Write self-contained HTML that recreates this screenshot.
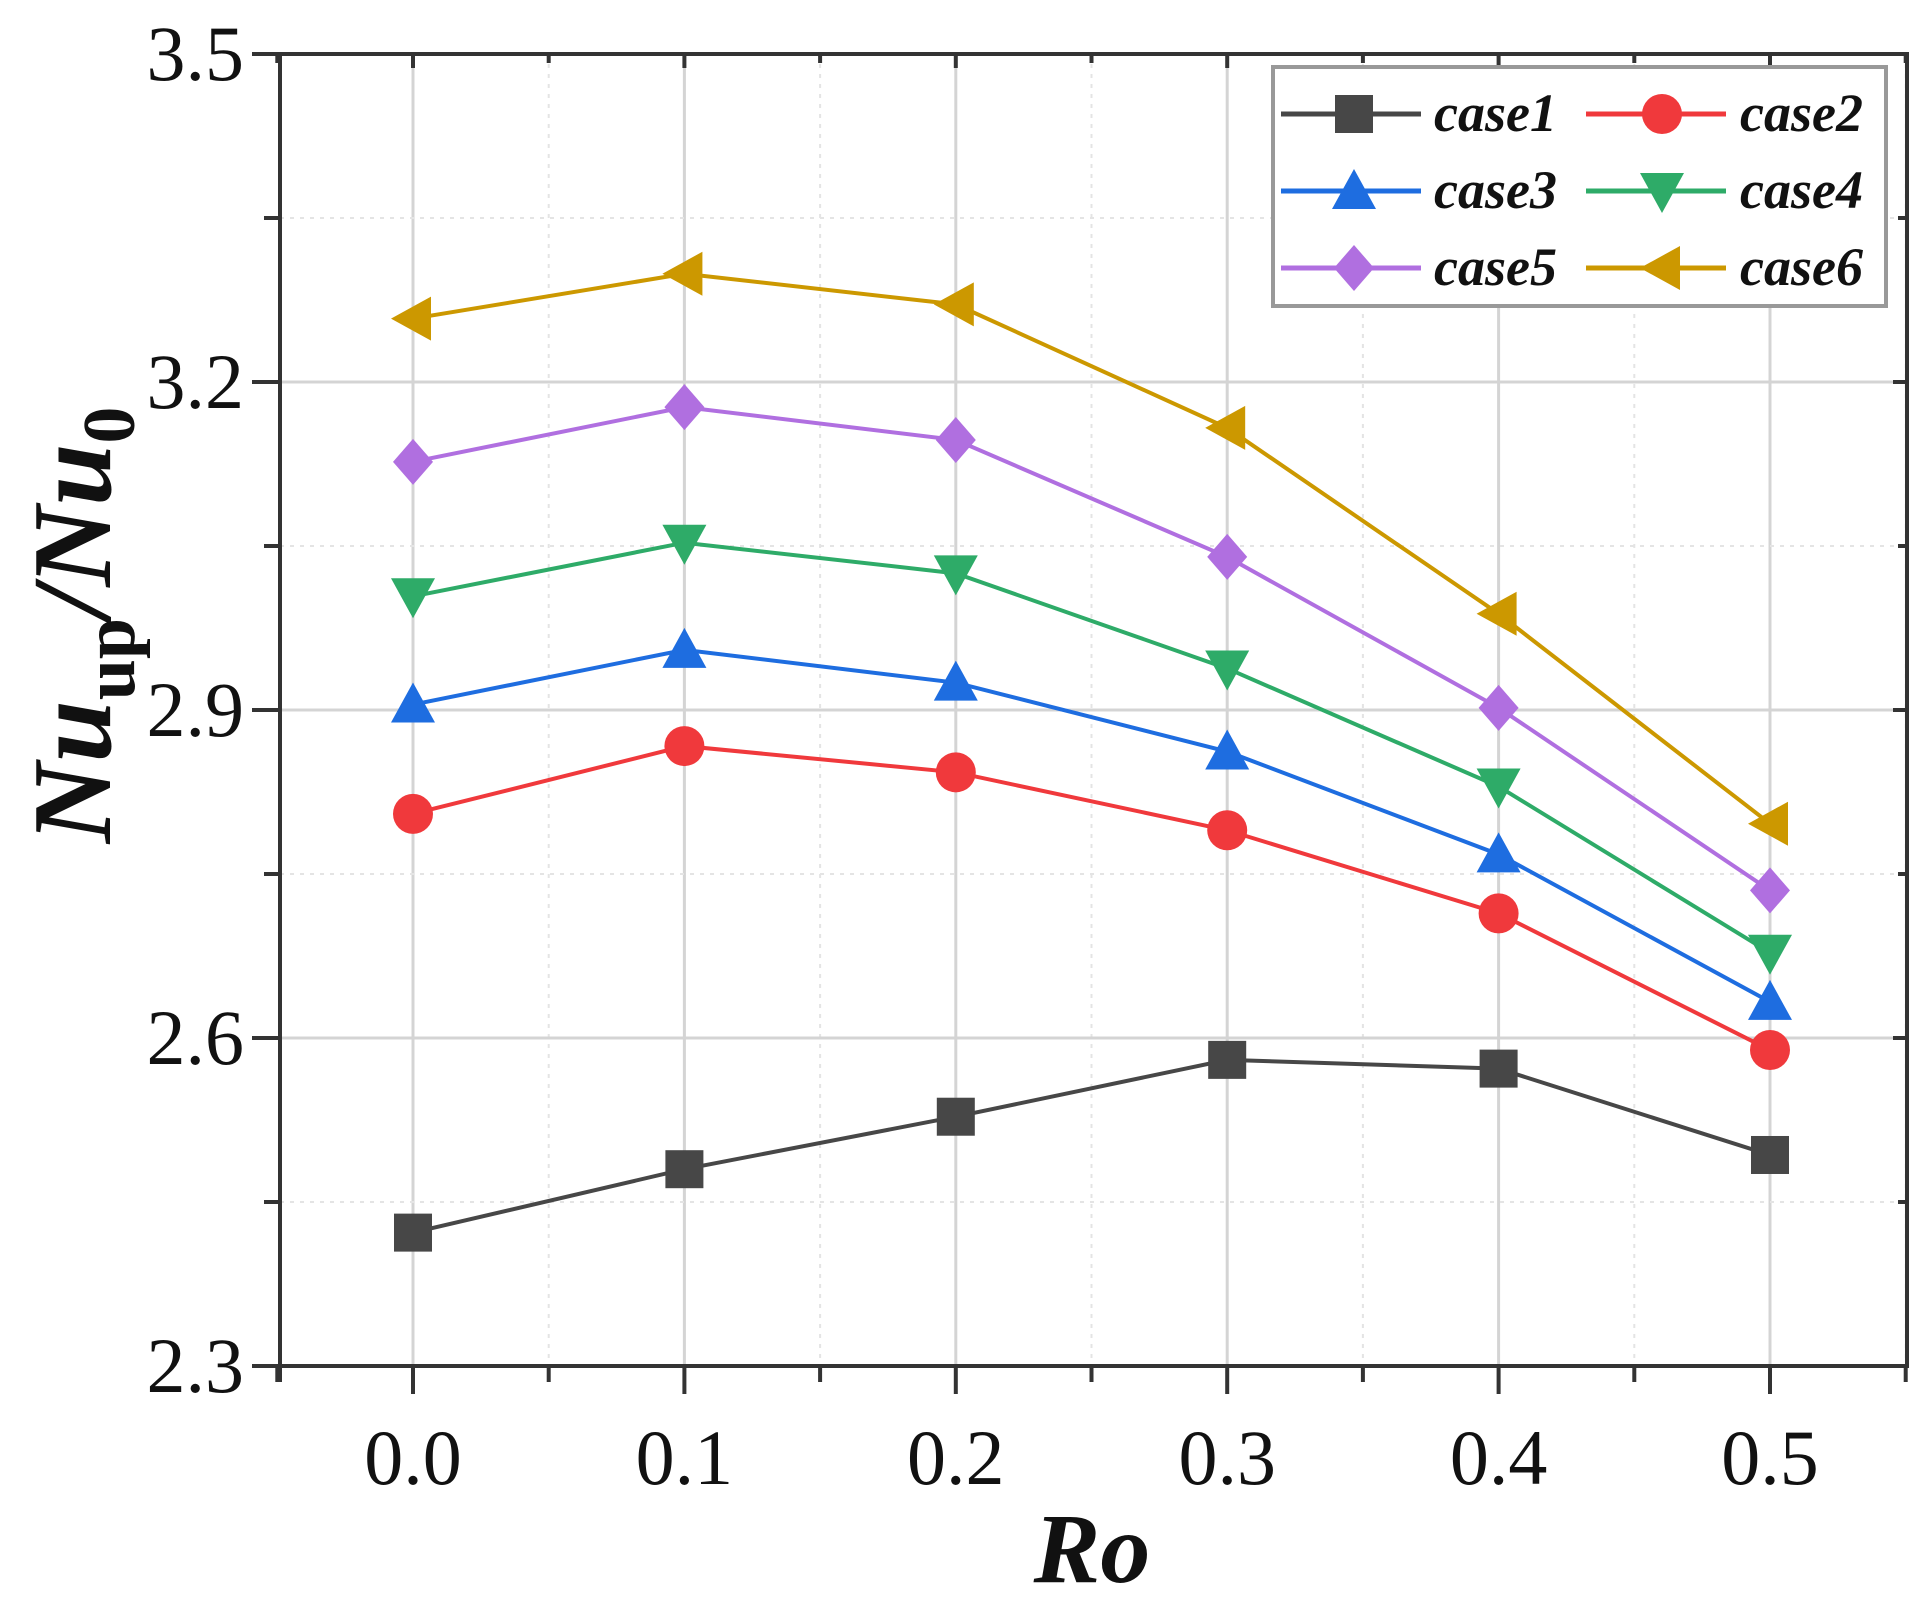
<!DOCTYPE html>
<html><head><meta charset="utf-8"><style>
html,body{margin:0;padding:0;background:#fff;}
svg{display:block;}
text{font-family:"Liberation Serif",serif;}
</style></head><body>
<svg id="chart" width="1925" height="1598" viewBox="0 0 1925 1598" xmlns="http://www.w3.org/2000/svg"></svg>
<script>
const xCategories = [0.0, 0.1, 0.2, 0.3, 0.4, 0.5];
const xTickLabels = ["0.0","0.1","0.2","0.3","0.4","0.5"];
const yTickValues = [2.3, 2.6, 2.9, 3.2, 3.5];
const yTickLabels = ["2.3","2.6","2.9","3.2","3.5"];
const seriesNames = ["case1","case2","case3","case4","case5","case6"];
const case1 = [2.422, 2.480, 2.528, 2.580, 2.572, 2.493];
const case2 = [2.805, 2.867, 2.843, 2.790, 2.714, 2.589];
const case3 = [2.905, 2.955, 2.925, 2.862, 2.768, 2.633];
const case4 = [3.004, 3.053, 3.025, 2.938, 2.830, 2.678];
const case5 = [3.127, 3.177, 3.147, 3.040, 2.902, 2.735];
const case6 = [3.258, 3.299, 3.271, 3.158, 2.988, 2.796];

const seriesValues = [case1, case2, case3, case4, case5, case6];
const colors = ["#474747","#f0393c","#1e6de0","#2eab68","#b06fe0","#cc9800"];
const markers = ["square","circle","up","down","diamond","left"];

const L=280,R=1907,T=54,B=1366;
const xs = v => 413 + (v-0)/(0.5)*(1770-413);
const ys = v => B - (v-2.3)/(1.2)*(B-T);
const NS="http://www.w3.org/2000/svg";
const svg=document.getElementById('chart');
function el(tag,attrs,parent){const e=document.createElementNS(NS,tag);for(const k in attrs)e.setAttribute(k,attrs[k]);(parent||svg).appendChild(e);return e;}

// grid
const grid=el('g',{});


for(let i=0;i<xCategories.length;i++){
  const x=xs(xCategories[i]);
  const g=el('line',{x1:x,x2:x,y1:T,y2:B,stroke:'#d4d4d4','stroke-width':3},grid);
  
  
}
for(let i=0;i<=xCategories.length;i++){
  const x=xs(-0.05+0.1*i);
  if(x<=L||x>=R) continue;
  const g=el('line',{x1:x,x2:x,y1:T,y2:B,stroke:'#e4e4e4','stroke-width':2,'stroke-dasharray':'4,6'},grid);
  
  
}
for(let i=0;i<yTickValues.length;i++){
  const y=ys(yTickValues[i]);
  if(i>0&&i<yTickValues.length-1){
    const g=el('line',{x1:L,x2:R,y1:y,y2:y,stroke:'#d4d4d4','stroke-width':3},grid);
    
    
  }
  if(i<yTickValues.length-1){
    const ym=ys(yTickValues[i]+0.15);
    const g=el('line',{x1:L,x2:R,y1:ym,y2:ym,stroke:'#e4e4e4','stroke-width':2,'stroke-dasharray':'4,6'},grid);
    
    
  }
}

// ticks
const ticks=el('g',{stroke:'#333','stroke-width':4});


for(let i=0;i<xCategories.length;i++){
  const x=xs(xCategories[i]);
  el('line',{x1:x,x2:x,y1:B,y2:B+28},ticks);
  el('line',{x1:x,x2:x,y1:T,y2:T+14},ticks);
}
for(let i=0;i<=xCategories.length;i++){
  const x=xs(-0.05+0.1*i);
  el('line',{x1:x,x2:x,y1:B,y2:B+16},ticks);
  el('line',{x1:x,x2:x,y1:T,y2:T+9},ticks);
}
el('line',{x1:L,x2:L,y1:B,y2:B+16},ticks);
for(let i=0;i<yTickValues.length;i++){
  const y=ys(yTickValues[i]);
  el('line',{x1:L-28,x2:L,y1:y,y2:y},ticks);
  el('line',{x1:R-14,x2:R,y1:y,y2:y},ticks);
  if(i<yTickValues.length-1){
    const ym=ys(yTickValues[i]+0.15);
    el('line',{x1:L-16,x2:L,y1:ym,y2:ym},ticks);
    el('line',{x1:R-9,x2:R,y1:ym,y2:ym},ticks);
  }
}

// frame
const frame=el('rect',{x:L,y:T,width:R-L,height:B-T,fill:'none',stroke:'#333','stroke-width':4});



// tick labels
for(let i=0;i<xCategories.length;i++){
  const t=el('text',{x:xs(xCategories[i]),y:1484,'font-size':78,'text-anchor':'middle',fill:'#111'});
  t.textContent=xTickLabels[i];
  
  
}
for(let i=0;i<yTickValues.length;i++){
  const t=el('text',{x:244,y:ys(yTickValues[i])+26,'font-size':78,'text-anchor':'end',fill:'#111'});
  t.textContent=yTickLabels[i];
  
  
}

// axis titles
const xt=el('text',{x:1092,y:1582,'font-size':100,'font-weight':'bold','font-style':'italic','text-anchor':'middle',fill:'#111'});
xt.textContent='Ro';


const yt=el('text',{x:0,y:0,'font-size':112,'font-weight':'bold','font-style':'italic','text-anchor':'middle',fill:'#111',transform:'translate(110,625) rotate(-90)'});
yt.innerHTML='Nu<tspan font-size="74" dy="24" font-style="normal">up</tspan><tspan dy="-24">/Nu</tspan><tspan font-size="74" dy="24" font-style="normal">0</tspan>';



function marker(type,x,y,c,parent){
  const s=19;
  if(type==='square') return el('rect',{x:x-s,y:y-s,width:2*s,height:2*s,fill:c},parent);
  if(type==='circle') return el('circle',{cx:x,cy:y,r:s+1,fill:c},parent);
  if(type==='up') return el('polygon',{points:`${x},${y-s-3} ${x+s+3},${y+s-1} ${x-s-3},${y+s-1}`,fill:c},parent);
  if(type==='down') return el('polygon',{points:`${x},${y+s+3} ${x+s+3},${y-s+1} ${x-s-3},${y-s+1}`,fill:c},parent);
  if(type==='diamond') return el('polygon',{points:`${x},${y-s-4} ${x+s+1},${y} ${x},${y+s+4} ${x-s-1},${y}`,fill:c},parent);
  if(type==='left') return el('polygon',{points:`${x-s-3},${y} ${x+s-1},${y-s-3} ${x+s-1},${y+s+3}`,fill:c},parent);
}

// series
for(let k=0;k<seriesValues.length;k++){
  const g=el('g',{});
  
  
  const pts=seriesValues[k].map((v,i)=>xs(xCategories[i])+','+ys(v)).join(' ');
  const pl=el('polyline',{points:pts,fill:'none',stroke:colors[k],'stroke-width':4},g);
  
  
  for(let i=0;i<seriesValues[k].length;i++){
    const m=marker(markers[k],xs(xCategories[i]),ys(seriesValues[k][i]),colors[k],g);
    
    
  }
}

// legend
const lg=el('g',{});


el('rect',{x:1273,y:67,width:613,height:239,fill:'#fff',stroke:'#999','stroke-width':4},lg);
const rowsY=[114,191,268];
const colLine=[1281,1586], colMark=[1354,1662], colText=[1434,1740];
for(let k=0;k<seriesNames.length;k++){
  const r=Math.floor(k/2), c=k%2;
  const e=el('g',{},lg);
  
  
  el('line',{x1:colLine[c],x2:colLine[c]+140,y1:rowsY[r],y2:rowsY[r],stroke:colors[k],'stroke-width':5},e);
  marker(markers[k],colMark[c],rowsY[r],colors[k],e);
  const t=el('text',{x:colText[c],y:rowsY[r]+17,'font-size':54,'font-weight':'bold','font-style':'italic',fill:'#111'},e);
  t.textContent=seriesNames[k];
}
</script>
</body></html>
